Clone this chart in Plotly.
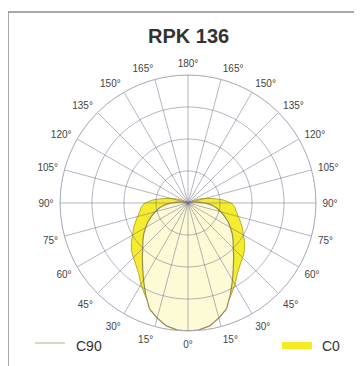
import plotly.graph_objects as go

# ---- data ----
title_text = "RPK 136"
gamma = [0, 5, 10, 15, 20, 25, 30, 35, 40, 45, 50, 55, 60, 65, 70, 75, 80, 85, 90,
         95, 100, 105, 110, 115, 120, 125, 135, 150, 165, 180]
c90_cd = [400, 398, 390, 372, 352, 314, 278, 247, 222, 200, 184, 169, 153, 138, 122, 106, 91, 75, 53,
          31, 16, 6, 1, 0, 0, 0, 0, 0, 0, 0]
c0_cd = [400, 396, 384, 364, 344, 318, 294, 269, 253, 241, 231, 216, 200, 188, 175, 163, 153, 147, 135,
         110, 80, 55, 35, 18, 6, 0, 0, 0, 0, 0]
ring_values = [100, 200, 300, 400]
tick_angles = list(range(0, 360, 15))
tick_labels = [f"{a if a <= 180 else 360 - a}°" for a in tick_angles]
legend_names = ["C90", "C0"]

# ---- geometry (page body has an 8px margin; coordinates below are page pixels) ----
OFF = 8
W, H = 364 - OFF, 366 - OFF
L, T, S = 60 - OFF, 75 - OFF, 256
def px(x):
    return (x - OFF - L) / S
def py(y):
    return (T + S - (y - OFF)) / S

def closed(vals):
    th = list(gamma) + [-g for g in reversed(gamma)]
    r = list(vals) + list(reversed(vals))
    return th, r

fig = go.Figure()

th0, r0 = closed(c0_cd)
fig.add_trace(go.Scatterpolar(theta=th0, r=r0, mode="lines", fill="toself",
                              fillcolor="#f4ec2c", line=dict(color="#b8ac30", width=1),
                              name="C0", hoverinfo="skip"))
th90, r90 = closed(c90_cd)
fig.add_trace(go.Scatterpolar(theta=th90, r=r90, mode="lines", fill="toself",
                              fillcolor="#fdfad6", line=dict(color="#9a8a5c", width=1.2),
                              name="C90", hoverinfo="skip"))

# grid drawn over the fills, as in the printed diagram
gth, gr = [], []
for a in tick_angles:
    gth += [a, a, None]
    gr += [0, ring_values[-1], None]
for rv in ring_values:
    for a in range(0, 362, 2):
        gth.append(a)
        gr.append(rv)
    gth.append(None)
    gr.append(None)
fig.add_trace(go.Scatterpolar(theta=gth, r=gr, mode="lines",
                              line=dict(color="rgba(110,108,135,0.5)", width=1),
                              hoverinfo="skip", connectgaps=False))

fig.update_layout(
    width=W, height=H,
    margin=dict(l=L, r=W - L - S, t=T, b=H - T - S, autoexpand=False),
    paper_bgcolor="white",
    showlegend=False,
    font=dict(family="Liberation Sans, Arial, sans-serif", color="#444"),
    polar=dict(
        domain=dict(x=[0, 1], y=[0, 1]),
        bgcolor="white",
        radialaxis=dict(range=[0, 400], tickvals=ring_values, showticklabels=False,
                        ticks="", showline=False, showgrid=False),
        angularaxis=dict(rotation=-90, direction="counterclockwise",
                         tickmode="array", tickvals=tick_angles, ticktext=tick_labels,
                         ticks="outside", ticklen=4, tickcolor="rgba(0,0,0,0)",
                         showline=True, linecolor="#aeaec0", linewidth=1,
                         showgrid=False, tickfont=dict(size=10, color="#444")),
    ),
)

fig.add_annotation(text=f"<b>{title_text}</b>", x=px(188), y=py(36), xref="paper", yref="paper",
                   xanchor="center", yanchor="middle",
                   showarrow=False, font=dict(size=20, color="#333"))

# frame
fig.add_shape(type="line", xref="paper", yref="paper", x0=px(8), x1=px(354), y0=py(12), y1=py(12),
              line=dict(color="#8c8c8c", width=1.5))
fig.add_shape(type="line", xref="paper", yref="paper", x0=px(8), x1=px(8), y0=py(12), y1=py(370),
              line=dict(color="#8c8c8c", width=1.5))

# legend
fig.add_shape(type="line", xref="paper", yref="paper", x0=px(35), x1=px(65), y0=py(343), y1=py(343),
              line=dict(color="#b8b078", width=1))
fig.add_annotation(text=legend_names[0], x=px(74), y=py(346), xref="paper", yref="paper",
                   xanchor="left", yanchor="middle", showarrow=False, font=dict(size=14, color="#333"))
fig.add_shape(type="rect", xref="paper", yref="paper", x0=px(282), x1=px(312), y0=py(342), y1=py(349),
              line=dict(width=0), fillcolor="#f4ec20")
fig.add_annotation(text=legend_names[1], x=px(320), y=py(346), xref="paper", yref="paper",
                   xanchor="left", yanchor="middle", showarrow=False, font=dict(size=14, color="#333"))

fig.write_html("out.html")
